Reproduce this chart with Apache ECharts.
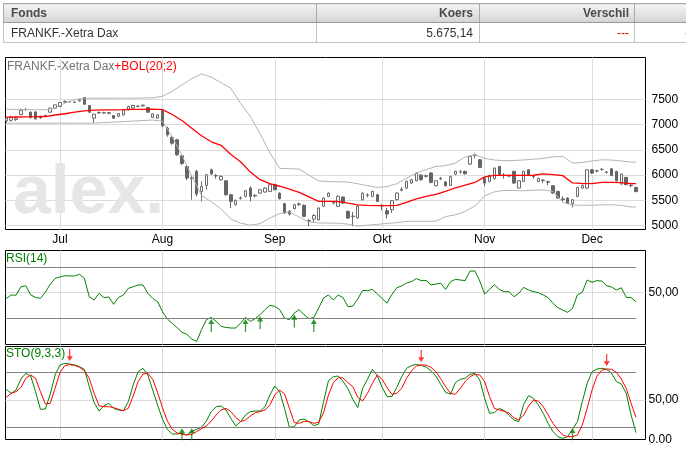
<!DOCTYPE html>
<html>
<head>
<meta charset="utf-8">
<title>FRANKF.-Xetra Dax</title>
<script src="https://cdn.jsdelivr.net/npm/echarts@6.0.0/dist/echarts.min.js"></script>
<style>
html,body{margin:0;padding:0;background:#fff;width:686px;height:449px;overflow:hidden;}
#chart{position:absolute;left:0;top:0;width:686px;height:449px;}
#tbl{position:absolute;left:3px;top:3px;border-collapse:collapse;table-layout:fixed;width:700px;border:1px solid #777;font-family:'Liberation Sans',Arial,sans-serif;font-size:12px;z-index:2;}
#tbl th{height:18px;padding:0;background:linear-gradient(#f4f4f4,#d4d4d4);color:#4b4b4b;font-weight:bold;border:1px solid #aaa;border-bottom-color:#999;line-height:14px;}
#tbl td{height:19px;padding:0;color:#333;border:1px solid #c4c4c4;background:#fff;line-height:14px;}
#tbl .c0{width:305px;padding-left:7px;}
#tbl .c1{width:156px;padding-right:6px;}
#tbl .c2{width:149px;padding-right:5px;}
#tbl .c3{width:62px;padding-right:5px;}
#tbl .l{text-align:left}
#tbl .r{text-align:right}
#tbl td.neg{color:#ff0000}
</style>
</head>
<body>
<div id="chart"></div>
<table id="tbl"><thead><tr id="thead"></tr></thead><tbody><tr id="trow"></tr></tbody></table>
<script>
// ---------- table ----------
const tableHeader = ['Fonds', 'Koers', 'Verschil', ''];
const tableRow = ['FRANKF.-Xetra Dax', '5.675,14', '---', '---'];

// ---------- x categories (trading-day index) ----------
const monthStarts = [11, 32, 55, 77, 98, 120];
const monthLabels = ['Jul', 'Aug', 'Sep', 'Okt', 'Nov', 'Dec'];

// ---------- candles [open, close, low, high] ----------
const candles = [
[7075,7130,7045,7150],[7085,7140,7060,7175],[7100,7130,7070,7160],[7200,7285,7185,7320],[7300,7295,7280,7330],
[7246,7141,7120,7260],[7250,7114,7100,7265],[7150,7140,7110,7175],[7165,7180,7150,7195],[7246,7325,7230,7340],
[7325,7391,7310,7400],[7358,7437,7345,7450],[7445,7460,7430,7475],[7455,7450,7435,7470],[7440,7445,7425,7460],
[7470,7490,7455,7505],[7536,7404,7395,7545],[7378,7246,7230,7385],[7127,7207,7029,7215],[7240,7232,7215,7260],
[7230,7236,7215,7255],[7235,7225,7210,7250],[7180,7127,7115,7190],[7167,7220,7150,7230],[7193,7292,7180,7300],
[7292,7358,7280,7365],[7325,7378,7315,7395],[7360,7365,7345,7385],[7370,7385,7355,7400],[7338,7246,7235,7350],
[7141,7213,7130,7225],[7127,7193,7115,7205],[7272,6976,6950,7285],[6930,6798,6760,6960],[6745,6633,6600,6780],
[6699,6403,6380,6720],[6383,6232,6200,6400],[6172,5942,5900,6190],[5930,5955,5514,6000],[6074,5625,5580,6106],
[5678,5777,5481,5876],[5797,6008,5711,6020],[6106,6027,6000,6130],[5990,5985,5930,6020],[5909,5975,5890,6000],
[5889,5612,5590,5900],[5612,5481,5349,5630],[5415,5500,5400,5520],[5540,5550,5515,5580],[5579,5691,5560,5700],
[5744,5579,5481,5777],[5600,5590,5560,5620],[5645,5711,5630,5720],[5665,5744,5655,5760],[5678,5810,5665,5840],
[5810,5711,5700,5830],[5645,5533,5520,5660],[5435,5250,5230,5450],[5283,5230,5200,5310],[5336,5415,5320,5430],
[5430,5420,5390,5460],[5402,5184,5170,5420],[5100,5090,4990,5130],[5130,5200,5060,5230],[5118,5349,5100,5360],
[5382,5547,5370,5560],[5579,5645,5565,5660],[5450,5460,5420,5490],[5382,5579,5370,5600],[5565,5448,5430,5580],
[5283,5151,5130,5300],[5180,5190,4987,5270],[5151,5382,5140,5400],[5514,5645,5500,5660],[5600,5610,5560,5640],
[5579,5678,5565,5690],[5612,5481,5470,5630],[5400,5390,5300,5430],[5296,5230,5138,5349],[5316,5494,5250,5510],
[5514,5645,5500,5660],[5700,5720,5680,5760],[5744,5876,5730,5890],[5843,5909,5830,5925],[5889,6041,5875,6055],
[6000,5909,5890,6020],[5975,5990,5950,6010],[6041,5856,5840,6060],[5790,5889,5775,5900],[5925,5935,5900,5965],
[5863,5790,5775,5880],[5797,5975,5785,5985],[6020,6074,6000,6085],[6060,6065,6030,6100],[6074,6027,6010,6090],
[6218,6370,6205,6380],[6390,6400,6330,6430],[6304,6153,6140,6320],[5942,5843,5780,5960],[5876,5995,5860,6010],
[5929,6139,5915,6150],[6172,6008,5995,6180],[6000,5990,5930,6040],[5980,5990,5960,6010],[6074,5843,5830,6090],
[5744,5889,5730,5900],[5876,6074,5865,6085],[6106,6008,5995,6115],[5985,5975,5930,6000],[5876,5935,5860,5950],
[5900,5895,5845,5925],[5870,5860,5800,5890],[5790,5645,5630,5800],[5678,5547,5535,5690],[5530,5520,5480,5580],
[5547,5440,5425,5560],[5440,5514,5360,5525],[5579,5757,5565,5770],[5744,5800,5730,5815],[5744,6106,5730,6115],
[6106,6041,6020,6120],[6080,6085,6055,6110],[6110,6115,6090,6140],[6060,6055,6030,6080],[6125,5995,5980,6135],
[6074,5889,5870,6085],[5823,6020,5810,6030],[5955,5810,5800,5965],[5800,5790,5760,5830],[5757,5675,5660,5770]
];

// ---------- Bollinger (20;2), read at these day indices ----------
const bolIdx = [0,2,4,6,8,10,12,14,16,18,20,22,24,26,28,30,32,34,36,38,40,42,44,46,48,50,52,54,56,58,60,62,64,66,68,70,72,74,76,78,80,82,84,86,88,90,92,94,96,98,100,102,104,106,108,110,112,114,116,118,120,122,124,126,128,129];
const bolUpper = [7305,7300,7298,7295,7292,7330,7424,7495,7523,7523,7523,7523,7523,7523,7525,7530,7560,7660,7786,7910,8004,7940,7830,7720,7420,7160,6820,6440,6135,6128,6120,6000,5885,5875,5868,5863,5830,5790,5757,5772,5830,5940,6040,6110,6170,6188,6240,6360,6405,6330,6300,6285,6290,6300,6315,6330,6362,6370,6240,6250,6280,6304,6298,6280,6258,6255];
const bolMid = [7147,7150,7153,7156,7160,7190,7215,7245,7272,7285,7290,7293,7296,7300,7302,7305,7295,7200,7080,6930,6780,6660,6590,6410,6265,6060,5910,5830,5780,5725,5660,5570,5480,5481,5478,5445,5413,5402,5395,5398,5402,5460,5530,5580,5620,5680,5750,5800,5855,5965,5995,5995,5995,5995,5998,6025,6010,5990,5845,5835,5832,5856,5855,5850,5832,5830];
const bolLower = [7029,7029,7029,7029,7029,7029,7029,7029,7029,7030,7040,7050,7060,7070,7080,7092,7065,6760,6390,5980,5600,5470,5330,5130,5050,5010,5040,5151,5240,5270,5170,5075,5053,5050,5048,5030,4990,5010,5025,5045,5058,5086,5086,5086,5090,5180,5215,5280,5390,5590,5670,5698,5695,5691,5700,5708,5678,5460,5410,5402,5405,5410,5415,5400,5372,5369];

// ---------- RSI(14) ----------
const rsi = [
45.5,48.2,48.0,54.7,55.5,48.2,46.3,45.5,50.3,56.6,
61.3,62.4,63.4,63.2,63.2,64.5,61.3,46.8,44.2,49.5,
46.1,46.6,40.8,46.3,48.2,53.4,54.7,56.1,56.1,49.5,
45.5,42.9,35.0,29.2,25.8,22.4,18.7,17.1,13.4,11.5,
20.8,28.7,30.5,27.3,23.4,22.6,22.1,22.1,26.0,30.5,
27.3,29.5,32.6,36.6,40.0,39.2,36.6,30.0,28.7,33.9,
36.6,32.6,29.5,30.5,37.9,45.8,48.2,44.2,48.2,46.1,
38.9,39.5,45.0,51.8,51.6,52.6,49.2,45.3,41.8,48.7,
53.9,55.3,57.6,58.7,61.1,59.5,59.7,56.1,56.8,57.4,
52.6,58.7,60.5,60.0,59.5,67.1,67.1,59.2,48.9,52.6,
56.3,52.6,50.8,50.8,46.8,49.5,54.2,52.1,50.8,50.0,
48.2,46.1,41.6,38.2,36.3,34.5,37.6,48.2,50.3,60.0,
58.2,59.5,59.2,55.5,54.5,52.1,53.9,46.3,46.1,42.9
];
const rsiLevels = [30, 70];
const rsiTicks = [50];
const rsiTickLabels = ['50,00'];
const rsiBuy = [42, 49, 52, 59, 63];

// ---------- STO(9,3,3) ----------
const stoK = [
61.5,57.1,60.7,72.7,78.9,76.0,58.9,39.6,40.0,56.0,
77.1,88.0,89.8,89.1,88.0,86.2,83.3,64.4,46.9,37.8,
43.6,46.2,40.7,38.9,38.2,48.0,66.2,80.7,84.4,77.1,
60.7,44.4,28.7,17.8,12.7,12.7,13.5,11.6,15.3,17.8,
20.0,26.9,37.1,42.5,43.3,38.9,29.8,21.5,26.2,33.5,
37.1,37.8,37.8,42.5,55.3,65.1,58.9,40.7,20.0,20.7,
28.0,29.1,26.2,21.8,23.6,48.0,70.9,75.3,76.0,70.0,
62.0,50.5,41.5,62.5,72.4,83.3,76.4,63.6,53.5,53.5,
63.6,75.3,84.4,87.3,88.7,87.6,85.8,81.8,76.0,66.9,
58.2,56.0,68.7,72.4,73.5,77.8,78.9,71.6,51.6,35.3,
36.0,40.7,38.2,33.1,28.0,26.2,45.1,54.5,51.6,44.4,
35.3,24.4,15.3,9.8,8.0,9.8,17.8,26.2,48.0,68.0,
80.7,83.6,84.4,83.3,78.9,69.8,67.3,57.1,33.5,14.2
];
const stoD = [
52.7,57.1,58.9,63.6,73.5,77.1,73.5,58.9,45.5,46.2,
62.5,80.0,87.3,88.4,87.6,85.5,81.8,73.5,57.1,43.6,
42.5,42.5,41.5,39.6,38.2,40.7,54.2,69.8,78.2,78.9,
72.4,57.8,41.5,26.9,17.8,13.8,12.4,11.6,12.4,15.3,
18.5,21.5,26.9,33.5,38.9,40.7,37.1,30.9,26.2,28.0,
32.4,36.0,37.1,38.9,44.4,55.3,60.7,56.4,40.7,25.1,
24.4,26.5,26.2,24.4,25.5,36.0,55.3,68.7,74.2,73.8,
68.7,64.4,52.7,48.7,57.1,68.0,77.1,72.4,63.3,56.0,
57.1,62.5,73.5,81.5,86.9,88.0,88.0,85.5,80.7,73.1,
64.4,57.1,56.0,62.5,69.8,75.3,77.8,77.1,69.8,53.5,
40.7,38.9,37.5,35.6,30.5,28.0,33.5,43.3,49.8,48.7,
42.5,33.5,24.4,17.1,11.6,9.8,9.8,11.6,22.5,40.7,
60.7,76.0,82.5,83.6,83.3,80.0,72.7,62.5,46.2,30.9
];
const stoLevels = [20, 80];
const stoBuy = [36, 38, 116];
const stoSell = [13, 85, 123];

// ---------- price axis ticks ----------
const priceTicks = [5000, 5500, 6000, 6500, 7000, 7500];

// ---------- axis extents ----------
const X_MIN = -0.16, X_MAX = 130.95;
const PRICE_MIN = 4924, PRICE_MAX = 8328;
const RSI_MIN = 9.1, RSI_MAX = 83.3;
const STO_MIN = 6.7, STO_MAX = 108.2;
const stoTickValues = [STO_MIN, 50];
const stoTickLabels = ['0.00', '50,00'];

// ---------- build table ----------
(function () {
  const align = ['l', 'r', 'r', 'r'];
  const h = document.getElementById('thead');
  const r = document.getElementById('trow');
  tableHeader.forEach((t, i) => {
    const th = document.createElement('th');
    th.className = 'c' + i + ' ' + align[i];
    th.textContent = t;
    h.appendChild(th);
  });
  tableRow.forEach((t, i) => {
    const td = document.createElement('td');
    td.className = 'c' + i + ' ' + align[i] + (t === '---' ? ' neg' : '');
    td.textContent = t;
    r.appendChild(td);
  });
})();

// ---------- chart ----------
const SANS = "'Liberation Sans', Arial, Helvetica, sans-serif";
const GRIDC = '#dcdcdc';
const LEVELC = '#808080';
const N = candles.length;

const upArrow = 'path://M5,0 L10,8 L6,8 L6,20 L4,20 L4,8 L0,8 Z';
const downArrow = 'path://M4,0 L6,0 L6,12 L10,12 L5,20 L0,12 L4,12 Z';

function xAxisFor(gi, showLabel) {
  return {
    type: 'value', gridIndex: gi, min: X_MIN, max: X_MAX,
    axisLine: { show: false },
    axisTick: { show: false, customValues: monthStarts },
    splitLine: { show: true, lineStyle: { color: GRIDC, width: 1 } },
    axisLabel: {
      show: showLabel, customValues: monthStarts,
      formatter: v => monthLabels[monthStarts.indexOf(v)],
      color: '#000', fontSize: 12, fontFamily: SANS, margin: 4
    }
  };
}
function gridFor(top, height) {
  return {
    left: 5.5, top: top, width: 640, height: height,
    show: true, borderColor: '#000', borderWidth: 1, backgroundColor: 'transparent',
    containLabel: false, outerBoundsMode: 'none'
  };
}
function levelLine(levels, last) {
  return {
    silent: true, animation: false, symbol: ['none', 'none'],
    label: { show: false }, emphasis: { disabled: true },
    lineStyle: { color: LEVELC, width: 1, type: 'solid' },
    data: levels.map(l => [{ coord: [0, l] }, { coord: [last, l] }])
  };
}

const chart = echarts.init(document.getElementById('chart'), null, { renderer: 'canvas' });
chart.setOption({
  animation: false,
  backgroundColor: 'transparent',
  textStyle: { fontFamily: SANS },
  title: [
    {
      text: '{a|FRANKF.-Xetra Dax}{b|+BOL(20;2)}', left: 7, top: 61, padding: 0,
      textStyle: {
        rich: {
          a: { color: '#737373', fontSize: 12, fontFamily: SANS, fontWeight: 'normal' },
          b: { color: '#ff0000', fontSize: 12, fontFamily: SANS, fontWeight: 'normal' }
        }
      }
    },
    { text: 'RSI(14)', left: 6, top: 253, padding: 0, textStyle: { color: '#008000', fontSize: 12, fontWeight: 'normal', fontFamily: SANS } },
    { text: 'STO(9,3,3)', left: 6, top: 348, padding: 0, textStyle: { color: '#008000', fontSize: 12, fontWeight: 'normal', fontFamily: SANS } }
  ],
  graphic: [
    {
      type: 'text', x: 13, y: 194, z: 1, silent: true,
      style: { text: 'alex.', font: 'bold 68px ' + SANS, fill: '#e6e6e6', align: 'left', verticalAlign: 'middle' }
    }
  ],
  grid: [gridFor(57.5, 172), gridFor(250.5, 94), gridFor(346.5, 93)],
  xAxis: [xAxisFor(0, true), xAxisFor(1, false), xAxisFor(2, false)],
  yAxis: [
    {
      type: 'value', gridIndex: 0, position: 'right', min: PRICE_MIN, max: PRICE_MAX,
      axisLine: { show: false }, axisTick: { show: false, customValues: priceTicks },
      splitLine: { show: true, lineStyle: { color: GRIDC, width: 1 } },
      axisLabel: { customValues: priceTicks, formatter: v => String(v), color: '#000', fontSize: 12, fontFamily: SANS, margin: 6 }
    },
    {
      type: 'value', gridIndex: 1, position: 'right', min: RSI_MIN, max: RSI_MAX,
      axisLine: { show: false }, axisTick: { show: false, customValues: rsiTicks },
      splitLine: { show: true, lineStyle: { color: GRIDC, width: 1 } },
      axisLabel: { customValues: rsiTicks, formatter: v => rsiTickLabels[rsiTicks.indexOf(v)], color: '#000', fontSize: 12, fontFamily: SANS, margin: 3 }
    },
    {
      type: 'value', gridIndex: 2, position: 'right', min: STO_MIN, max: STO_MAX,
      axisLine: { show: false }, axisTick: { show: false, customValues: [50] },
      splitLine: { show: true, lineStyle: { color: GRIDC, width: 1 } },
      axisLabel: { customValues: stoTickValues, formatter: v => stoTickLabels[stoTickValues.indexOf(v)], color: '#000', fontSize: 12, fontFamily: SANS, margin: 3 }
    }
  ],
  series: [
    {
      type: 'candlestick', name: 'FRANKF.-Xetra Dax', xAxisIndex: 0, yAxisIndex: 0,
      data: candles.map((c, i) => [i, c[0], c[1], c[2], c[3]]),
      barWidth: 3, z: 3, silent: true,
      itemStyle: { color: '#ffffff', color0: '#656565', borderColor: '#6b6b6b', borderColor0: '#656565', borderColorDoji: '#6b6b6b', borderWidth: 1 }
    },
    {
      type: 'line', name: 'BOL upper', xAxisIndex: 0, yAxisIndex: 0, z: 4, silent: true,
      data: bolIdx.map((x, k) => [x, bolUpper[k]]), symbol: 'none',
      lineStyle: { color: '#b4b4b4', width: 1 }, emphasis: { disabled: true }
    },
    {
      type: 'line', name: 'BOL lower', xAxisIndex: 0, yAxisIndex: 0, z: 4, silent: true,
      data: bolIdx.map((x, k) => [x, bolLower[k]]), symbol: 'none',
      lineStyle: { color: '#b4b4b4', width: 1 }, emphasis: { disabled: true }
    },
    {
      type: 'line', name: 'BOL(20;2)', xAxisIndex: 0, yAxisIndex: 0, z: 5, silent: true,
      data: bolIdx.map((x, k) => [x, bolMid[k]]), symbol: 'none',
      lineStyle: { color: '#ff0000', width: 1.3 }, emphasis: { disabled: true }
    },
    {
      type: 'line', name: 'RSI(14)', xAxisIndex: 1, yAxisIndex: 1, z: 4, silent: true,
      data: rsi.map((v, i) => [i, v]), symbol: 'none',
      lineStyle: { color: '#008000', width: 1 }, emphasis: { disabled: true },
      markLine: levelLine(rsiLevels, N - 1)
    },
    {
      type: 'scatter', name: 'RSI signal', xAxisIndex: 1, yAxisIndex: 1, z: 6, silent: true,
      data: rsiBuy.map(i => [i, rsi[i]]), symbol: upArrow, symbolSize: [6, 13], symbolOffset: [0, 8],
      itemStyle: { color: '#007a00' }
    },
    {
      type: 'line', name: '%K', xAxisIndex: 2, yAxisIndex: 2, z: 4, silent: true,
      data: stoK.map((v, i) => [i, v]), symbol: 'none',
      lineStyle: { color: '#008000', width: 1 }, emphasis: { disabled: true },
      markLine: levelLine(stoLevels, N - 1)
    },
    {
      type: 'line', name: '%D', xAxisIndex: 2, yAxisIndex: 2, z: 5, silent: true,
      data: stoD.map((v, i) => [i, v]), symbol: 'none',
      lineStyle: { color: '#ff0000', width: 1 }, emphasis: { disabled: true }
    },
    {
      type: 'scatter', name: 'STO buy', xAxisIndex: 2, yAxisIndex: 2, z: 6, silent: true,
      data: stoBuy.map(i => [i, stoLevels[0]]), symbol: upArrow, symbolSize: [6, 12], symbolOffset: [0, 7],
      itemStyle: { color: '#007a00' }
    },
    {
      type: 'scatter', name: 'STO sell', xAxisIndex: 2, yAxisIndex: 2, z: 6, silent: true,
      data: stoSell.map(i => [i, Math.max(stoK[i], stoD[i])]), symbol: downArrow, symbolSize: [6, 12], symbolOffset: [0, -9],
      itemStyle: { color: '#ff0000' }
    }
  ]
});
</script>
</body>
</html>
